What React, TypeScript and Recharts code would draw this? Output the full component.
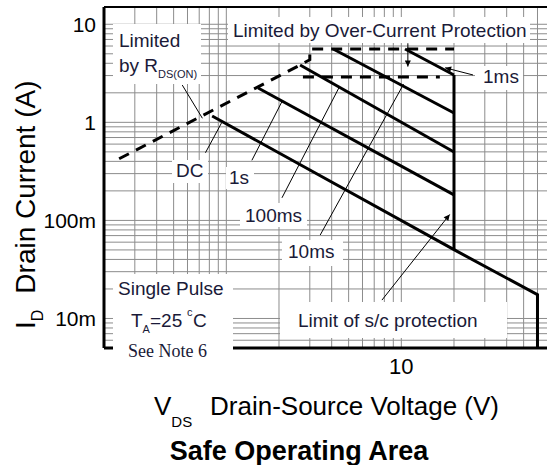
import React from 'react';
import { LineChart, Line, XAxis, YAxis, CartesianGrid, ReferenceLine } from 'recharts';

const FONT = "'Liberation Sans', Arial, Helvetica, sans-serif";
const TXT = '#1a1a38';

// grid values (log minor grid)
const xGrid = [0.3, 0.4, 0.5, 0.6, 0.7, 0.8, 0.9, 1, 2, 3, 4, 5, 6, 7, 8, 9, 10, 20, 30, 40, 50, 60];
const yGrid = [
  0.006, 0.007, 0.008, 0.009, 0.01, 0.02, 0.03, 0.04, 0.05, 0.06, 0.07, 0.08, 0.09,
  0.1, 0.2, 0.3, 0.4, 0.5, 0.6, 0.7, 0.8, 0.9, 1, 2, 3, 4, 5, 6, 7, 8, 9, 10,
];
const xTicks = [10];
const yTicks = [0.01, 0.1, 1, 10];
const yTickLabels: Record<string, string> = { '0.01': '10m', '0.1': '100m', '1': '1', '10': '10' };

// SOA boundaries (VDS in V, ID in A)
const rdsLimit = [
  { v: 0.244, i: 0.425 },
  { v: 2.64, i: 3.84 },
  { v: 3.0, i: 4.35 },
  { v: 3.0, i: 5.6 },
  { v: 20, i: 5.6 },
];
const ocpLower = [
  { v: 2.74, i: 2.9 },
  { v: 16.6, i: 2.9 },
];
const pulse1ms = [
  { v: 10.5, i: 5.6 },
  { v: 20, i: 3.04 },
];
const pulse10ms = [
  { v: 4.08, i: 5.6 },
  { v: 20, i: 1.245 },
];
const pulse100ms = [
  { v: 2.64, i: 3.84 },
  { v: 20, i: 0.498 },
];
const pulse1s = [
  { v: 1.52, i: 2.24 },
  { v: 20, i: 0.182 },
];
const dcLine = [
  { v: 0.83, i: 1.16 },
  { v: 20, i: 0.0503 },
  { v: 60, i: 0.0175 },
  { v: 60, i: 0.005 },
];
const vdsLimit = [
  { v: 20, i: 3.04 },
  { v: 20, i: 0.0503 },
];

// annotation leader lines
const leadRds = [{ v: 0.56, i: 2.4 }, { v: 0.73, i: 1.1 }];
const leadDc = [{ v: 0.76, i: 0.49 }, { v: 0.94, i: 0.99 }];
const lead1s = [{ v: 1.4, i: 0.41 }, { v: 2.08, i: 1.63 }];
const lead100ms = [{ v: 2.08, i: 0.17 }, { v: 4.4, i: 2.25 }];
const lead10ms = [{ v: 3.44, i: 0.071 }, { v: 10.3, i: 2.45 }];
const lead1ms = [{ v: 25.7, i: 3.04 }, { v: 17.8, i: 3.6 }];
const leadOcp = [{ v: 10.9, i: 6.4 }, { v: 10.9, i: 3.7 }];
const leadSc = [{ v: 7.75, i: 0.0154 }, { v: 18.9, i: 0.115 }];

const solid = [pulse1ms, pulse10ms, pulse100ms, pulse1s, dcLine, vdsLimit];
const dashed = [rdsLimit, ocpLower];
const leaders = [leadRds, leadDc, lead1s, lead100ms, lead10ms];
const arrowLeaders = [lead1ms, leadOcp, leadSc];

export default function App() {
  return (
    <div style={{ position: 'absolute', left: 0, top: 0, width: 549, height: 465, background: '#fff', overflow: 'hidden' }}>
      <svg width={0} height={0} style={{ position: 'absolute' }}>
        <defs>
          <marker id="arrowHead" viewBox="0 0 10 10" refX="10" refY="5" markerWidth="7" markerHeight="6" markerUnits="userSpaceOnUse" orient="auto">
            <path d="M0,0 L10,5 L0,10 z" fill="#000" />
          </marker>
        </defs>
      </svg>
      <div style={{ position: 'absolute', left: 0, top: 0 }}>
        <LineChart width={549} height={465} margin={{ top: 7, right: 2, bottom: 87, left: 44 }}>
          <CartesianGrid
            stroke="#8c8c8c"
            strokeWidth={1}
            horizontalValues={yGrid}
            verticalValues={xGrid}
          />
          <XAxis
            dataKey="v"
            type="number"
            scale="log"
            domain={[0.2, 68]}
            allowDataOverflow
            ticks={xTicks}
            interval={0}
            tickLine={false}
            tickMargin={4}
            axisLine={{ stroke: '#000', strokeWidth: 3 }}
            tick={{ fontSize: 22, fill: '#000', fontFamily: FONT }}
            height={30}
          />
          <YAxis
            dataKey="i"
            type="number"
            scale="log"
            domain={[0.005, 15]}
            allowDataOverflow
            ticks={yTicks}
            interval={0}
            tickFormatter={(t: number) => yTickLabels[String(t)] ?? String(t)}
            tickLine={false}
            axisLine={{ stroke: '#000', strokeWidth: 3 }}
            tick={{ fontSize: 21, fill: '#000', fontFamily: FONT }}
            width={60}
          />
          <ReferenceLine y={15} stroke="#000" strokeWidth={2} ifOverflow="visible" />
          {leaders.map((d, k) => (
            <Line key={'l' + k} data={d} dataKey="i" stroke="#000" strokeWidth={1} dot={false} isAnimationActive={false} />
          ))}
          {arrowLeaders.map((d, k) => (
            <Line key={'a' + k} data={d} dataKey="i" stroke="#000" strokeWidth={1} dot={false} markerEnd="url(#arrowHead)" isAnimationActive={false} />
          ))}
          {dashed.map((d, k) => (
            <Line key={'d' + k} data={d} dataKey="i" stroke="#000" strokeWidth={3} strokeDasharray="11 8" dot={false} isAnimationActive={false} />
          ))}
          {solid.map((d, k) => (
            <Line key={'s' + k} data={d} dataKey="i" stroke="#000" strokeWidth={3} dot={false} isAnimationActive={false} />
          ))}
        </LineChart>
      </div>
      <svg width={549} height={465} style={{ position: 'absolute', left: 0, top: 0, pointerEvents: 'none' }} fontFamily={FONT}>
        {/* label boxes */}
        <g fill="#fff">
          <rect x={228} y={17} width={302} height={26} />
          <rect x={113} y={24} width={88} height={60} />
          <rect x={172} y={160} width={36} height={23} />
          <rect x={226} y={167} width={28} height={22} />
          <rect x={240} y={203} width={67} height={24} />
          <rect x={282} y={240} width={61} height={26} />
          <rect x={475} y={66} width={48} height={24} />
          <rect x={113} y={274} width={120} height={90} />
          <rect x={280} y={302} width={227} height={36} />
        </g>
        <g fill={TXT} fontSize={19}>
          <text x={233} y={37}>Limited by Over-Current Protection</text>
          <text x={119} y={47}>Limited</text>
          <text x={119} y={72}>
            by R<tspan fontSize={11} dy={6}>DS(ON)</tspan>
          </text>
          <text x={176} y={177}>DC</text>
          <text x={229} y={184}>1s</text>
          <text x={245} y={222}>100ms</text>
          <text x={288} y={258}>10ms</text>
          <text x={483} y={83}>1ms</text>
          <text x={118} y={295}>Single Pulse</text>
          <text x={131} y={327}>
            T<tspan fontSize={11} dy={6}>A</tspan>
            <tspan x={150} dy={-6}>=25</tspan>
            <tspan fontSize={11} x={187} dy={-11}>c</tspan>
            <tspan x={193} dy={11}>C</tspan>
          </text>
          <text x={128} y={357} fontFamily="'Liberation Serif', 'Times New Roman', serif" fontSize={18}>See Note 6</text>
          <text x={298} y={327}>Limit of s/c protection</text>
        </g>
        {/* axis titles */}
        <g fill="#000">
          <text transform="translate(35,329) rotate(-90)" fontSize={28}>
            I<tspan fontSize={16} dy={8}>D</tspan>
            <tspan dy={-8} dx={16}>Drain Current (A)</tspan>
          </text>
          <text x={154} y={415} fontSize={26}>
            V<tspan fontSize={15} dy={12}>DS</tspan>
            <tspan x={210} dy={-12}>Drain-Source Voltage (V)</tspan>
          </text>
          <text x={299} y={460} fontSize={27} fontWeight="bold" textAnchor="middle">Safe Operating Area</text>
        </g>
      </svg>
    </div>
  );
}
